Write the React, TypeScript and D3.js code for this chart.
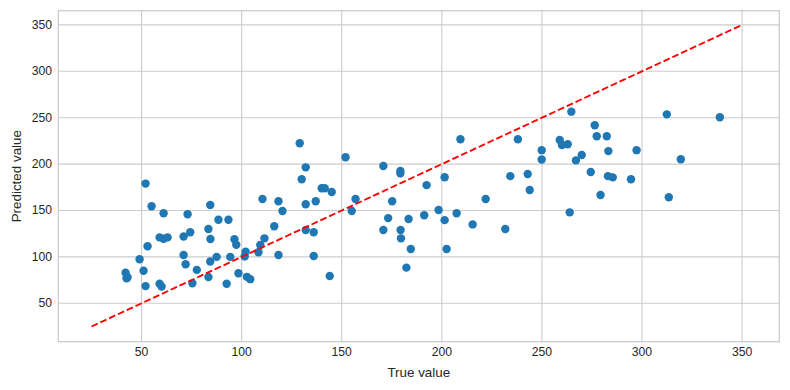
import React from "react";
import * as d3 from "d3";

const trueValues: number[] = [
  42, 42.5, 43, 49, 51, 52, 52, 53, 55, 59, 61, 63, 59, 60, 61, 71, 71, 72, 73, 74.3,
  75.4, 77.6, 83.4, 83.4, 84.3, 84.4, 84.3, 87.5, 88.4, 92.5, 93.4, 94.3, 96.4, 97.3, 98.4, 101.5,
  102, 102.6, 104.3, 108.4, 109.3, 110.4, 111.4, 116.3, 118.4, 118.4, 120.4, 129, 130, 132,
  132, 132, 136, 136, 137, 140, 141.5, 144, 145, 151.9, 155, 156.9, 170.8, 170.8, 173.2,
  175.2, 179.3, 179.3, 179.4, 179.6, 182.3, 183.4, 184.5, 191.2, 192.4, 198.4, 201.4, 201.4,
  202.4, 207.4, 209.3, 215.4, 221.9, 231.7, 234.2, 238, 242.9, 243.9, 249.9, 249.9, 258.9,
  260, 262.9, 263.9, 264.7, 267, 269.9, 274.4, 276.4, 277.4, 279.3, 282.4, 283.2, 283, 285.4,
  294.5, 297.3, 312.4, 313.4, 319.4, 338.9,
];
const predictedValues: number[] = [
  83, 77, 78, 97.5, 85, 179, 68.5, 111.5, 154.5, 121, 119.5, 121, 71, 68, 147, 122, 102, 92, 146, 126.5,
  71.5, 86, 130, 78.3, 156, 119.3, 95, 100, 140, 71, 140, 100, 119, 113, 82.3, 100.5,
  105.5, 78.5, 76, 105, 112.8, 162.4, 120, 133, 102, 160, 149.5, 222.4, 183.6, 196.5,
  156.7, 129, 126.5, 101, 160, 174, 174, 79.4, 170, 207.3, 149.5, 162.4, 198, 129, 141.8,
  160, 192.5, 190, 129, 120, 88.4, 140.8, 108.5, 144.8, 177.3, 150.5, 185.8, 139.6,
  108.5, 147, 226.7, 135, 162.4, 130, 187, 226.7, 189.3, 172, 215, 205, 226,
  220.6, 221.3, 148, 256.5, 204, 209.8, 191.5, 241.8, 230, 166.7, 230, 214, 187, 185.7,
  183.6, 215, 253.6, 164.2, 205.2, 250.4,
];
const idealLine: number[] = [25, 350];
const tickValues: number[] = [50, 100, 150, 200, 250, 300, 350];
const xLabel = "True value";
const yLabel = "Predicted value";

export default function App() {
  const W = 790, H = 390;
  const left = 58.3, right = 779.3, top = 10.7, bottom = 341.7;
  const x = d3.scaleLinear().domain([8.4, 368.6]).range([left, right]);
  const y = d3.scaleLinear().domain([8.6, 365.3]).range([bottom, top]);
  const line = d3.line<number>().x((d) => x(d)).y((d) => y(d));
  const font = "'Liberation Sans', Arial, sans-serif";
  const textColor = "#262626";
  return (
    <div style={{ position: "fixed", left: 0, top: 0, width: W, height: H, background: "#fff" }}>
      <svg width={W} height={H} style={{ display: "block" }}>
        <rect x={0} y={0} width={W} height={H} fill="#fff" />
        {tickValues.map((t) => (
          <line key={"gx" + t} x1={x(t)} x2={x(t)} y1={top} y2={bottom} stroke="#cccccc" strokeWidth={1.1} />
        ))}
        {tickValues.map((t) => (
          <line key={"gy" + t} x1={left} x2={right} y1={y(t)} y2={y(t)} stroke="#cccccc" strokeWidth={1.1} />
        ))}
        <rect x={left} y={top} width={right - left} height={bottom - top} fill="none" stroke="#cccccc" strokeWidth={1.3} />
        {trueValues.map((tv, i) => (
          <circle key={i} cx={x(tv)} cy={y(predictedValues[i])} r={4.2} fill="#1f77b4" />
        ))}
        <path d={line(idealLine) || ""} fill="none" stroke="#ff0000" strokeWidth={1.85} strokeDasharray="6.8,2.9" />
        {tickValues.map((t) => (
          <text key={"tx" + t} x={x(t)} y={352} textAnchor="middle" dominantBaseline="central" fontFamily={font} fontSize={12.2} fill={textColor}>
            {t}
          </text>
        ))}
        {tickValues.map((t) => (
          <text key={"ty" + t} x={52} y={y(t)} textAnchor="end" dominantBaseline="central" fontFamily={font} fontSize={12.2} fill={textColor}>
            {t}
          </text>
        ))}
        <text x={(left + right) / 2} y={372} textAnchor="middle" dominantBaseline="central" fontFamily={font} fontSize={13.4} fill={textColor}>
          {xLabel}
        </text>
        <text transform={`translate(16,${(top + bottom) / 2}) rotate(-90)`} textAnchor="middle" dominantBaseline="central" fontFamily={font} fontSize={13.4} fill={textColor}>
          {yLabel}
        </text>
      </svg>
    </div>
  );
}
